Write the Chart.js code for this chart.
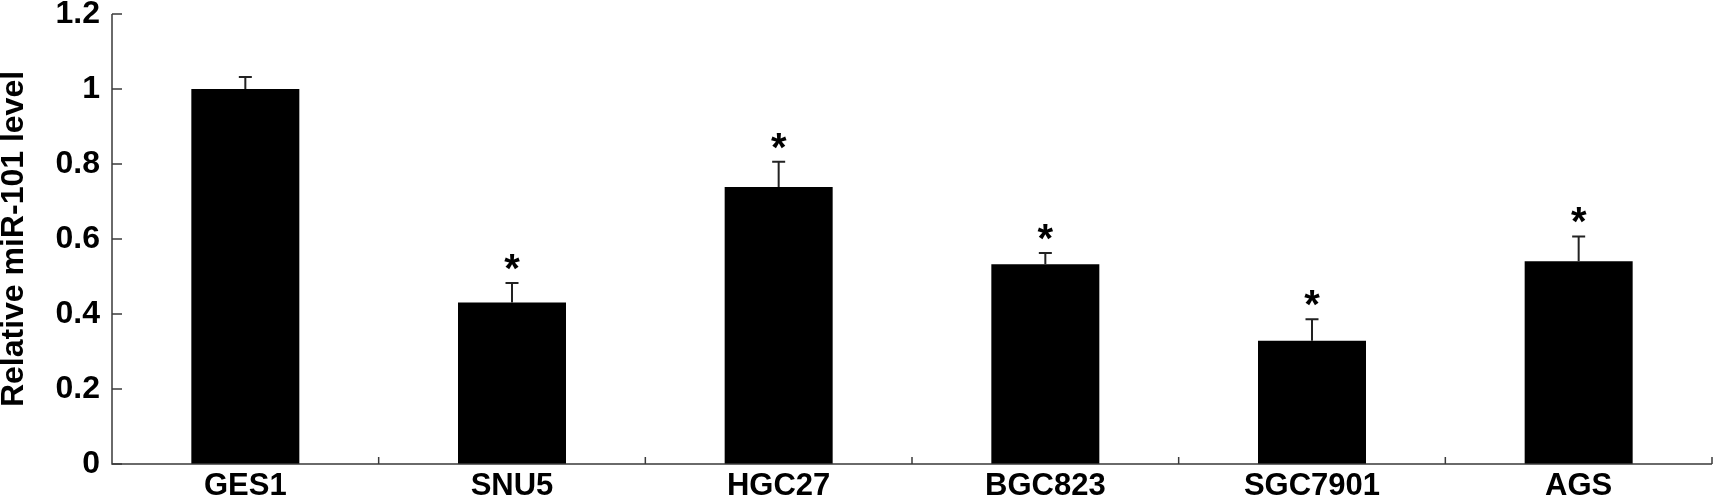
<!DOCTYPE html>
<html>
<head>
<meta charset="utf-8">
<script src="https://cdn.jsdelivr.net/npm/chart.js@4/dist/chart.umd.min.js"></script>
<style>
  html, body { margin: 0; padding: 0; background: #fff; }
  #wrap { width: 1714px; height: 501px; }
</style>
</head>
<body>
<div id="wrap"><canvas id="mir-chart"></canvas></div>
<script>
// Data
const cellLines = ["GES1", "SNU5", "HGC27", "BGC823", "SGC7901", "AGS"];
const mirLevels = [1.0, 0.431, 0.739, 0.533, 0.329, 0.541];
const mirErrors = [0.032, 0.052, 0.067, 0.030, 0.057, 0.066];
const significance = ["", "*", "*", "*", "*", "*"];
const yTicks = [0, 0.2, 0.4, 0.6, 0.8, 1, 1.2];

const FONT = "'Liberation Sans', Arial, sans-serif";
const AXIS_COLOR = "#3a3a3a";

// axis lines, inward ticks, error bars and asterisks
const decorations = {
  id: "decorations",
  afterDatasetsDraw(chart) {
    const { ctx, chartArea, scales } = chart;
    const x = scales.x;
    const y = scales.y;

    ctx.save();
    ctx.strokeStyle = AXIS_COLOR;
    ctx.lineWidth = 1.5;

    // axes
    ctx.beginPath();
    ctx.moveTo(chartArea.left, y.getPixelForValue(1.2));
    ctx.lineTo(chartArea.left, chartArea.bottom);
    ctx.lineTo(chartArea.right, chartArea.bottom);
    ctx.stroke();

    // y ticks pointing in
    yTicks.forEach((v) => {
      const py = y.getPixelForValue(v);
      ctx.beginPath();
      ctx.moveTo(chartArea.left, py);
      ctx.lineTo(chartArea.left + 10, py);
      ctx.stroke();
    });

    // x ticks at category boundaries, pointing up
    const half = (x.getPixelForValue(1) - x.getPixelForValue(0)) / 2;
    cellLines.forEach((_, i) => {
      const px = x.getPixelForValue(i) + half;
      ctx.beginPath();
      ctx.moveTo(px, chartArea.bottom);
      ctx.lineTo(px, chartArea.bottom - 7);
      ctx.stroke();
    });

    // error bars (upper only)
    ctx.strokeStyle = "#222";
    ctx.lineWidth = 2;
    mirLevels.forEach((v, i) => {
      const px = x.getPixelForValue(i);
      const top = y.getPixelForValue(v);
      const cap = y.getPixelForValue(v + mirErrors[i]);
      ctx.beginPath();
      ctx.moveTo(px, top);
      ctx.lineTo(px, cap);
      ctx.moveTo(px - 6.5, cap);
      ctx.lineTo(px + 6.5, cap);
      ctx.stroke();
    });

    // asterisks
    ctx.fillStyle = "#000";
    ctx.font = "bold 40px " + FONT;
    ctx.textAlign = "center";
    ctx.textBaseline = "alphabetic";
    significance.forEach((s, i) => {
      if (!s) return;
      const m = ctx.measureText(s);
      const mid = (m.actualBoundingBoxAscent - m.actualBoundingBoxDescent) / 2;
      const px = x.getPixelForValue(i);
      const cap = y.getPixelForValue(mirLevels[i] + mirErrors[i]);
      ctx.fillText(s, px, cap - 21 + mid);
    });
    ctx.restore();
  },
};

function renderChart() {
  const ctx = document.getElementById("mir-chart").getContext("2d");

  new Chart(ctx, {
    type: "bar",
    data: {
      labels: cellLines,
      datasets: [
        {
          label: "Relative miR-101 level",
          data: mirLevels,
          backgroundColor: "#000",
          borderWidth: 0,
          categoryPercentage: 1,
          barPercentage: 0.405,
        },
      ],
    },
    options: {
      responsive: true,
      maintainAspectRatio: false,
      animation: false,
      layout: { padding: { top: 14, right: 2, left: 0, bottom: 0 } },
      plugins: {
        legend: { display: false },
        tooltip: { enabled: false },
      },
      scales: {
        x: {
          grid: { display: false, drawTicks: false },
          border: { display: false },
          ticks: {
            color: "#000",
            padding: 4,
            maxRotation: 0,
            font: { family: FONT, size: 31, weight: "bold", lineHeight: 1.2 },
          },
          afterFit(scale) {
            scale.height = 37;
          },
        },
        y: {
          min: 0,
          max: 1.2,
          grid: { display: false, drawTicks: false },
          border: { display: false },
          ticks: {
            stepSize: 0.2,
            color: "#000",
            padding: 12,
            font: { family: FONT, size: 32, weight: "bold", lineHeight: 0.05 },
            callback: (value) => String(Math.round(value * 10) / 10),
          },
          title: {
            display: true,
            text: "Relative miR-101 level",
            color: "#000",
            padding: 0,
            font: { family: FONT, size: 32, weight: "bold", lineHeight: 0.9 },
          },
          afterFit(scale) {
            scale.width = 112;
          },
        },
      },
    },
    plugins: [decorations],
  });
}

renderChart();
</script>
</body>
</html>
